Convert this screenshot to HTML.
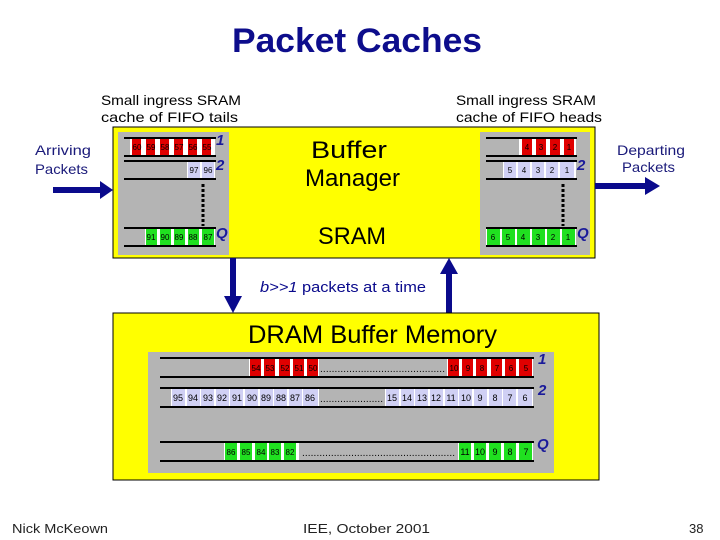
<!DOCTYPE html>
<html><head><meta charset="utf-8"><style>
html,body{margin:0;padding:0;background:#fff}
svg{display:block}
text{font-family:"Liberation Sans",sans-serif}
.n{font-size:8px;text-anchor:middle}
.q{fill:#1a1a9a;font-weight:bold;font-style:italic;font-size:15px}
</style></head><body>
<svg width="720" height="540" viewBox="0 0 720 540" xmlns="http://www.w3.org/2000/svg">
<text x="232" y="52" font-size="34" font-weight="bold" fill="#0d0d8c" textLength="250" lengthAdjust="spacingAndGlyphs">Packet Caches</text>

<text x="101" y="105" font-size="14" textLength="140" lengthAdjust="spacingAndGlyphs">Small ingress SRAM</text>
<text x="101" y="122" font-size="14" textLength="137" lengthAdjust="spacingAndGlyphs">cache of FIFO tails</text>
<text x="456" y="105" font-size="14" textLength="140" lengthAdjust="spacingAndGlyphs">Small ingress SRAM</text>
<text x="456" y="122" font-size="14" textLength="146" lengthAdjust="spacingAndGlyphs">cache of FIFO heads</text>
<text x="35" y="155" font-size="14" fill="#1a1a7a" textLength="56" lengthAdjust="spacingAndGlyphs">Arriving</text>
<text x="35" y="174" font-size="14" fill="#1a1a7a" textLength="53" lengthAdjust="spacingAndGlyphs">Packets</text>
<text x="617" y="155" font-size="14" fill="#1a1a7a" textLength="68" lengthAdjust="spacingAndGlyphs">Departing</text>
<text x="622" y="172" font-size="14" fill="#1a1a7a" textLength="53" lengthAdjust="spacingAndGlyphs">Packets</text>

<!-- top box -->
<rect x="113" y="127" width="482" height="131" fill="#ffff00" stroke="#000" stroke-width="1"/>
<rect x="118" y="132" width="111" height="123" fill="#b4b4b4"/>
<rect x="480" y="132" width="110" height="123" fill="#b4b4b4"/>
<text x="311" y="158" font-size="24" textLength="76" lengthAdjust="spacingAndGlyphs">Buffer</text>
<text x="305" y="186" font-size="24" textLength="95" lengthAdjust="spacingAndGlyphs">Manager</text>
<text x="318" y="244" font-size="24" textLength="68" lengthAdjust="spacingAndGlyphs">SRAM</text>

<!-- left cache -->
<g>
<rect x="130" y="139" width="85" height="16" fill="#fff"/>
<rect x="132" y="139" width="9" height="16" fill="#e00000"/><rect x="146" y="139" width="9" height="16" fill="#e00000"/><rect x="160" y="139" width="9" height="16" fill="#e00000"/><rect x="174" y="139" width="9" height="16" fill="#e00000"/><rect x="188" y="139" width="9" height="16" fill="#e00000"/><rect x="202" y="139" width="9" height="16" fill="#e00000"/>
<text class="n" x="137" y="150">60</text><text class="n" x="151" y="150">59</text><text class="n" x="165" y="150">58</text><text class="n" x="179" y="150">57</text><text class="n" x="193" y="150">56</text><text class="n" x="207" y="150">55</text>
<rect x="187" y="162" width="28" height="16" fill="#fff"/>
<rect x="188" y="162" width="12" height="16" fill="#d0d0f4"/><rect x="202" y="162" width="12" height="16" fill="#d0d0f4"/>
<text class="n" x="194" y="173">97</text><text class="n" x="208" y="173">96</text>
<rect x="145" y="229" width="70" height="17" fill="#fff"/>
<rect x="146" y="229" width="11" height="17" fill="#20e020"/><rect x="160" y="229" width="11" height="17" fill="#20e020"/><rect x="174" y="229" width="11" height="17" fill="#20e020"/><rect x="188" y="229" width="11" height="17" fill="#20e020"/><rect x="202" y="229" width="12" height="17" fill="#20e020"/>
<text class="n" x="151" y="240">91</text><text class="n" x="165" y="240">90</text><text class="n" x="179" y="240">89</text><text class="n" x="193" y="240">88</text><text class="n" x="208" y="240">87</text>
<g stroke="#000" stroke-width="2">
<line x1="124" y1="138" x2="216" y2="138"/><line x1="124" y1="156" x2="216" y2="156"/>
<line x1="124" y1="161" x2="216" y2="161"/><line x1="124" y1="179" x2="216" y2="179"/>
<line x1="124" y1="228" x2="216" y2="228"/><line x1="124" y1="246" x2="216" y2="246"/>
<line x1="203" y1="184" x2="203" y2="226" stroke-width="3" stroke-dasharray="3,2"/>
</g>
<text class="q" x="216" y="145">1</text><text class="q" x="216" y="170">2</text><text class="q" x="216" y="238">Q</text>
</g>

<!-- right cache -->
<g>
<rect x="519" y="139" width="57" height="16" fill="#fff"/>
<rect x="522" y="139" width="10" height="16" fill="#e00000"/><rect x="536" y="139" width="10" height="16" fill="#e00000"/><rect x="550" y="139" width="10" height="16" fill="#e00000"/><rect x="564" y="139" width="10" height="16" fill="#e00000"/>
<text class="n" x="527" y="150">4</text><text class="n" x="541" y="150">3</text><text class="n" x="555" y="150">2</text><text class="n" x="569" y="150">1</text>
<rect x="503" y="162" width="73" height="16" fill="#fff"/>
<rect x="504" y="162" width="12" height="16" fill="#d0d0f4"/><rect x="518" y="162" width="12" height="16" fill="#d0d0f4"/><rect x="532" y="162" width="12" height="16" fill="#d0d0f4"/><rect x="546" y="162" width="12" height="16" fill="#d0d0f4"/><rect x="560" y="162" width="14" height="16" fill="#d0d0f4"/>
<text class="n" x="510" y="173">5</text><text class="n" x="524" y="173">4</text><text class="n" x="538" y="173">3</text><text class="n" x="552" y="173">2</text><text class="n" x="567" y="173">1</text>
<rect x="486" y="229" width="90" height="17" fill="#fff"/>
<rect x="487" y="229" width="13" height="17" fill="#20e020"/><rect x="502" y="229" width="13" height="17" fill="#20e020"/><rect x="517" y="229" width="13" height="17" fill="#20e020"/><rect x="532" y="229" width="13" height="17" fill="#20e020"/><rect x="547" y="229" width="13" height="17" fill="#20e020"/><rect x="562" y="229" width="13" height="17" fill="#20e020"/>
<text class="n" x="493" y="240">6</text><text class="n" x="508" y="240">5</text><text class="n" x="523" y="240">4</text><text class="n" x="538" y="240">3</text><text class="n" x="553" y="240">2</text><text class="n" x="568" y="240">1</text>
<g stroke="#000" stroke-width="2">
<line x1="486" y1="138" x2="577" y2="138"/><line x1="486" y1="156" x2="577" y2="156"/>
<line x1="486" y1="161" x2="577" y2="161"/><line x1="486" y1="179" x2="577" y2="179"/>
<line x1="486" y1="228" x2="577" y2="228"/><line x1="486" y1="246" x2="577" y2="246"/>
<line x1="563" y1="184" x2="563" y2="226" stroke-width="3" stroke-dasharray="3,2"/>
</g>
<text class="q" x="577" y="170">2</text><text class="q" x="577" y="238">Q</text>
</g>

<!-- arrows -->
<g fill="#0a0a8c">
<rect x="53" y="187" width="50" height="6"/><polygon points="100,181 113,190 100,199"/>
<rect x="595" y="183" width="52" height="6"/><polygon points="645,177 660,186 645,195"/>
<rect x="230" y="258" width="6" height="40"/><polygon points="224,296 242,296 233,313"/>
<rect x="446" y="272" width="6" height="41"/><polygon points="440,274 458,274 449,258"/>
</g>
<text x="260" y="292" font-size="15" fill="#0a0a8c" textLength="166" lengthAdjust="spacingAndGlyphs"><tspan font-style="italic">b&gt;&gt;1</tspan>  packets at a time</text>

<!-- DRAM -->
<rect x="113" y="313" width="486" height="167" fill="#ffff00" stroke="#000" stroke-width="1"/>
<text x="248" y="343" font-size="25" textLength="249" lengthAdjust="spacingAndGlyphs">DRAM Buffer Memory</text>
<rect x="148" y="352" width="406" height="121" fill="#b4b4b4"/>

<!-- row1 -->
<rect x="249" y="359" width="70" height="18" fill="#fff"/>
<rect x="250" y="359" width="11" height="18" fill="#e00000"/><rect x="264" y="359" width="11" height="18" fill="#e00000"/><rect x="279" y="359" width="11" height="18" fill="#e00000"/><rect x="293" y="359" width="11" height="18" fill="#e00000"/><rect x="307" y="359" width="11" height="18" fill="#e00000"/>
<text class="n" x="256" y="371">54</text><text class="n" x="270" y="371">53</text><text class="n" x="285" y="371">52</text><text class="n" x="299" y="371">51</text><text class="n" x="313" y="371">50</text>
<text x="320" y="372" font-size="10" textLength="125" lengthAdjust="spacing">...........................................</text>
<rect x="447" y="359" width="86" height="18" fill="#fff"/>
<rect x="448" y="359" width="11" height="18" fill="#e00000"/><rect x="462" y="359" width="11" height="18" fill="#e00000"/><rect x="476" y="359" width="11" height="18" fill="#e00000"/><rect x="491" y="359" width="11" height="18" fill="#e00000"/><rect x="505" y="359" width="11" height="18" fill="#e00000"/><rect x="519" y="359" width="13" height="18" fill="#e00000"/>
<text class="n" x="454" y="371">10</text><text class="n" x="468" y="371">9</text><text class="n" x="482" y="371">8</text><text class="n" x="497" y="371">7</text><text class="n" x="511" y="371">6</text><text class="n" x="526" y="371">5</text>

<!-- row2 -->
<rect x="171" y="389" width="148" height="18" fill="#fff"/>
<g fill="#d0d0f4">
<rect x="172" y="389" width="13" height="18"/><rect x="187" y="389" width="13" height="18"/><rect x="201" y="389" width="13" height="18"/><rect x="216" y="389" width="13" height="18"/><rect x="230" y="389" width="13" height="18"/><rect x="245" y="389" width="13" height="18"/><rect x="260" y="389" width="13" height="18"/><rect x="274" y="389" width="13" height="18"/><rect x="289" y="389" width="13" height="18"/><rect x="303" y="389" width="15" height="18"/>
</g>
<g font-size="9" text-anchor="middle">
<text x="178" y="401">95</text><text x="193" y="401">94</text><text x="208" y="401">93</text><text x="222" y="401">92</text><text x="237" y="401">91</text><text x="252" y="401">90</text><text x="266" y="401">89</text><text x="281" y="401">88</text><text x="295" y="401">87</text><text x="310" y="401">86</text>
</g>
<text x="320" y="402" font-size="10" textLength="63" lengthAdjust="spacing">......................</text>
<rect x="385" y="389" width="148" height="18" fill="#fff"/>
<g fill="#d0d0f4">
<rect x="386" y="389" width="13" height="18"/><rect x="401" y="389" width="13" height="18"/><rect x="415" y="389" width="13" height="18"/><rect x="430" y="389" width="13" height="18"/><rect x="445" y="389" width="13" height="18"/><rect x="459" y="389" width="13" height="18"/><rect x="474" y="389" width="13" height="18"/><rect x="489" y="389" width="13" height="18"/><rect x="503" y="389" width="13" height="18"/><rect x="518" y="389" width="14" height="18"/>
</g>
<g font-size="9" text-anchor="middle">
<text x="392" y="401">15</text><text x="407" y="401">14</text><text x="422" y="401">13</text><text x="436" y="401">12</text><text x="451" y="401">11</text><text x="466" y="401">10</text><text x="480" y="401">9</text><text x="495" y="401">8</text><text x="510" y="401">7</text><text x="525" y="401">6</text>
</g>

<!-- row Q -->
<rect x="224" y="443" width="75" height="18" fill="#fff"/>
<g fill="#20e020"><rect x="225" y="443" width="12" height="18"/><rect x="240" y="443" width="12" height="18"/><rect x="255" y="443" width="12" height="18"/><rect x="269" y="443" width="12" height="18"/><rect x="284" y="443" width="12" height="18"/></g>
<text class="n" x="231" y="455">86</text><text class="n" x="246" y="455">85</text><text class="n" x="261" y="455">84</text><text class="n" x="275" y="455">83</text><text class="n" x="290" y="455">82</text>
<text x="302" y="456" font-size="10" textLength="153" lengthAdjust="spacing">.....................................................</text>
<rect x="458" y="443" width="75" height="18" fill="#fff"/>
<g fill="#20e020"><rect x="459" y="443" width="12" height="18"/><rect x="474" y="443" width="12" height="18"/><rect x="489" y="443" width="12" height="18"/><rect x="504" y="443" width="12" height="18"/><rect x="519" y="443" width="13" height="18"/></g>
<g font-size="9" text-anchor="middle"><text x="465" y="455">11</text><text x="480" y="455">10</text><text x="495" y="455">9</text><text x="510" y="455">8</text><text x="526" y="455">7</text></g>

<g stroke="#000" stroke-width="2">
<line x1="160" y1="358" x2="534" y2="358"/><line x1="160" y1="377" x2="534" y2="377"/>
<line x1="160" y1="388" x2="534" y2="388"/><line x1="160" y1="407" x2="534" y2="407"/>
<line x1="160" y1="442" x2="534" y2="442"/><line x1="160" y1="461" x2="534" y2="461"/>
</g>
<text class="q" x="538" y="364">1</text><text class="q" x="538" y="395">2</text><text class="q" x="537" y="449">Q</text>

<!-- footer -->
<text x="12" y="533" font-size="13" fill="#222" textLength="96" lengthAdjust="spacingAndGlyphs">Nick McKeown</text>
<text x="303" y="533" font-size="13" fill="#222" textLength="127" lengthAdjust="spacingAndGlyphs">IEE, October 2001</text>
<text x="689" y="533" font-size="13" fill="#222">38</text>
</svg>
</body></html>
